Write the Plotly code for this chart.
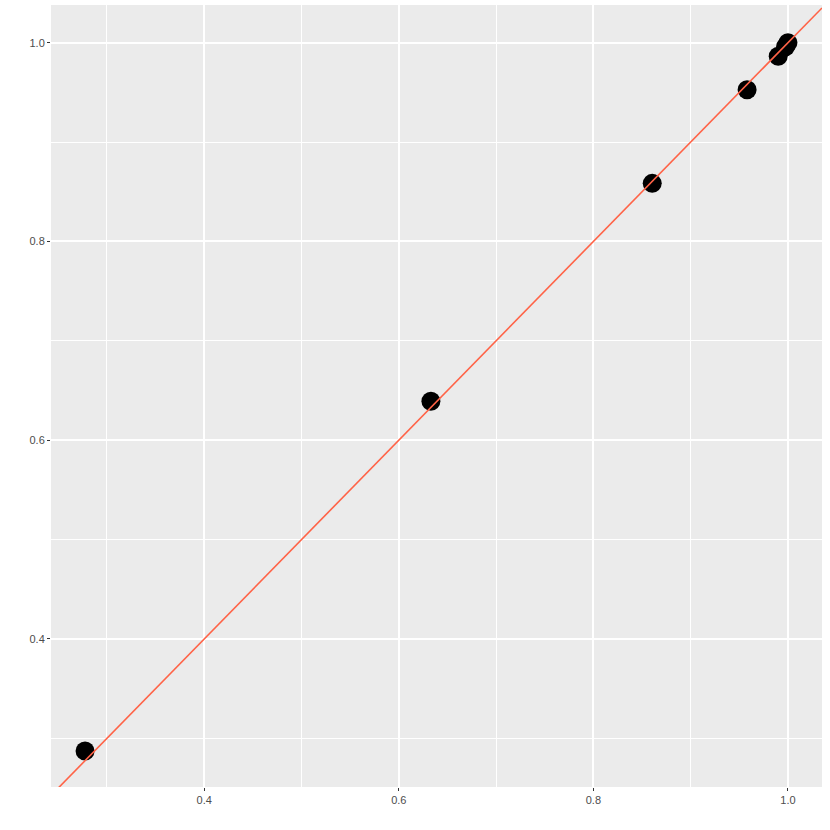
import plotly.graph_objects as go

x_vals = [0.2775, 0.6330, 0.8605, 0.9580, 0.9900, 0.9975, 1.0000]
y_vals = [0.2873, 0.6393, 0.8585, 0.9527, 0.9865, 0.9960, 1.0000]
abline_intercept = 0.0
abline_slope = 1.0

x_range = [0.2425, 1.035]
y_range = [0.251, 1.038]
tick_vals = [0.4, 0.6, 0.8, 1.0]
tick_text = ["0.4", "0.6", "0.8", "1.0"]

line_x = [min(x_range), max(x_range)]
line_y = [abline_intercept + abline_slope * v for v in line_x]

fig = go.Figure()
fig.add_trace(go.Scatter(x=x_vals, y=y_vals, mode="markers",
                         marker=dict(color="black", size=19, line=dict(width=0)),
                         showlegend=False, hoverinfo="x+y"))
fig.add_trace(go.Scatter(x=line_x, y=line_y, mode="lines",
                         line=dict(color="tomato", width=1.6),
                         showlegend=False, hoverinfo="skip"))

axis_common = dict(
    showgrid=True, gridcolor="white", gridwidth=1.8,
    minor=dict(showgrid=True, gridcolor="white", gridwidth=0.8, dtick=0.1),
    zeroline=False, showline=False,
    ticks="outside", ticklen=3, tickcolor="#333333", tickwidth=1,
    tickfont=dict(family="Liberation Sans, Arial, sans-serif", size=11, color="#4D4D4D"),
    tickmode="array", tickvals=tick_vals, ticktext=tick_text,
)
fig.update_xaxes(range=x_range, **axis_common)
fig.update_yaxes(range=y_range, **axis_common)
fig.update_layout(
    width=830, height=830,
    margin=dict(l=51, r=8, t=5, b=43),
    plot_bgcolor="#EBEBEB", paper_bgcolor="white",
)
fig.write_html("out.html", config={"displayModeBar": False},
               post_script="document.body.style.margin='0';")
